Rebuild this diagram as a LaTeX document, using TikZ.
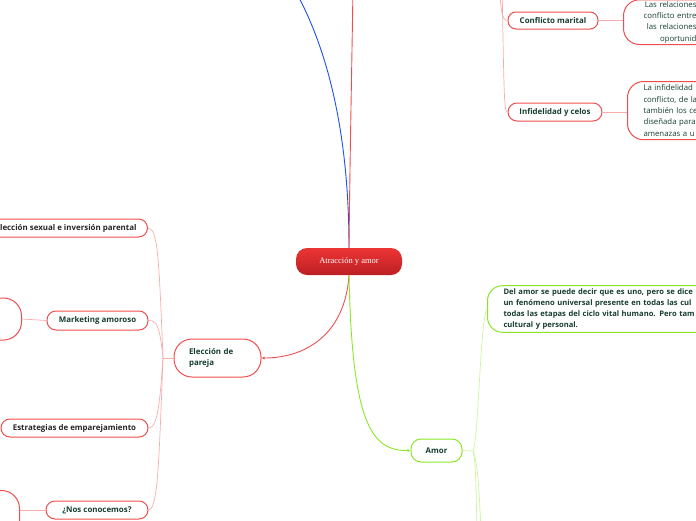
\documentclass[tikz,border=0pt]{standalone}
\usepackage{fontspec}
\newfontfamily\mapfont{Open Sans}
\newfontfamily\rootfont{Liberation Serif}
\usetikzlibrary{positioning,arrows.meta}

\definecolor{mapred}{RGB}{240,78,78}
\definecolor{rootred}{RGB}{236,52,52}
\definecolor{rootdark}{RGB}{188,32,36}
\definecolor{palered}{RGB}{248,172,172}
\definecolor{mapgreen}{RGB}{140,230,40}
\definecolor{palegreen}{RGB}{205,245,160}
\definecolor{mapblue}{RGB}{30,80,240}
\definecolor{darktext}{RGB}{22,62,46}

\begin{document}
\begin{tikzpicture}[
    x=1pt, y=-1pt,
    root/.style={rectangle, rounded corners=11pt, top color=rootred, bottom color=rootdark,
        text=white, font=\rootfont\fontsize{8.5}{10}\selectfont, minimum width=106pt, minimum height=27pt},
    topic/.style={rectangle, draw=mapred, line width=1pt, fill=white, text=darktext,
        font=\mapfont\bfseries\fontsize{7.9}{11}\selectfont, inner sep=0pt},
    note/.style={topic, font=\mapfont\fontsize{7.8}{11.3}\selectfont, rounded corners=16pt},
    mainlink/.style={line width=0.9pt},
    sublink/.style={palered, line width=0.7pt},
    tip/.style={-{Latex[length=3pt,width=3pt]}}
]
\useasboundingbox (0,0) rectangle (696,520);

% Central topic
\node[root] (root) at (349,261.5) {Atracción y amor};

% Free ends of branches leaving the picture
\coordinate (blueend) at (292,-15);
\coordinate (redend) at (353,-15);
\coordinate (tr1) at (500,-20);
\coordinate (tr2) at (502,-20);
\coordinate (gd1) at (477,530);
\coordinate (gd2) at (481,530);

% Main branches
\node[topic, rounded corners=18pt, minimum width=87pt, minimum height=38pt, text width=57pt, align=left]
    (elec) at (217.5,358) {Elección de\\pareja};
\node[topic, draw=mapgreen, rounded corners=10pt, minimum width=51pt, minimum height=23pt]
    (amor) at (436.5,450.5) {Amor};

% Left sub topics
\node[topic, rounded corners=9pt, minimum height=18pt, inner xsep=11pt, anchor=east, text=black!85]
    (sel) at (148,228) {Selección sexual e inversión parental};
\node[topic, rounded corners=9pt, minimum width=101pt, minimum height=19pt]
    (mkt) at (97.5,320.5) {Marketing amoroso};
\node[topic, rounded corners=9pt, minimum width=147pt, minimum height=18pt, text=black!85]
    (est) at (74.5,428) {Estrategias de emparejamiento};
\node[topic, rounded corners=9pt, minimum width=102pt, minimum height=18pt]
    (nos) at (97,510) {¿Nos conocemos?};
\node[topic, rounded corners=18pt, minimum width=110pt, minimum height=42pt, anchor=east] (mktnote) at (22,319) {};
\node[topic, rounded corners=18pt, minimum width=110pt, minimum height=60pt, anchor=north east] (nosnote) at (20,490) {};

% Top right sub topics
\node[topic, rounded corners=8pt, minimum width=90pt, minimum height=17pt] (conf) at (553,20.5) {Conflicto marital};
\node[topic, rounded corners=9pt, minimum width=94pt, minimum height=18pt] (infi) at (555,112) {Infidelidad y celos};
\node[note, anchor=south west, inner xsep=17pt, inner ysep=1.5pt, text width=56pt, align=right]
    (confnote) at (623,45) {Las relaciones\\conflicto entre\\las relaciones\\oportunid};
\node[note, anchor=north west, inner xsep=16pt, inner ysep=3.5pt, text width=80pt, align=left]
    (infinote) at (627,81) {La infidelidad\\conflicto, de la\\también los ce\\diseñada para\\amenazas a u};

% Green note
\node[note, draw=mapgreen, font=\mapfont\bfseries\fontsize{7.6}{11}\selectfont, anchor=west,
    inner xsep=16pt, inner ysep=3pt, text width=230pt, align=left, rounded corners=15pt]
    (amornote) at (487,309) {Del amor se puede decir que es uno, pero se dice\\un fenómeno universal presente en todas las cul\\todas las etapas del ciclo vital humano. Pero tam\\cultural y personal.};

% Junctions
\coordinate (ej) at (163,358);
\coordinate (aj) at (473,451);

% Branches from the root
\draw[mainlink, mapblue] (root.north) .. controls (349,140) and (330,50) .. (blueend);
\draw[mainlink, mapred] (root.north) .. controls (350,150) and (352,60) .. (redend);
\draw[mainlink, mapred, tip] (root.south) .. controls (345,335) and (305,358) .. (elec.east);
\draw[mainlink, mapgreen, tip] (root.south) .. controls (352,425) and (372,451) .. (amor.west);

% Elección de pareja
\draw[sublink] (elec.west) -- (ej);
\draw[sublink] (ej) .. controls (159,260) and (158,228) .. (sel.east);
\draw[sublink] (ej) .. controls (160,330) and (158,320) .. (mkt.east);
\draw[sublink] (ej) .. controls (160,400) and (158,428) .. (est.east);
\draw[sublink] (ej) .. controls (159,460) and (158,510) .. (nos.east);
\draw[sublink] (mkt.west) -- (mktnote.east);
\draw[sublink] (nos.west) -- (nosnote.east |- nos.west);

% Top right
\draw[sublink] (tr1) .. controls (500,10) and (502,20.5) .. (conf.west);
\draw[sublink] (tr2) .. controls (504,95) and (504,112) .. (infi.west);
\draw[sublink] (conf.east) -- (confnote.west |- conf.east);
\draw[sublink] (infi.east) -- (infinote.west |- infi.east);

% Amor
\draw[palegreen, line width=0.7pt] (amor.east) -- (aj);
\draw[palegreen, line width=0.7pt] (aj) .. controls (479,435) and (480,320) .. (amornote.west);
\draw[palegreen, line width=0.7pt] (aj) .. controls (476,462) and (476,490) .. (gd1);
\draw[palegreen, line width=0.7pt] (aj) .. controls (478,462) and (479,490) .. (gd2);

\end{tikzpicture}
\end{document}
